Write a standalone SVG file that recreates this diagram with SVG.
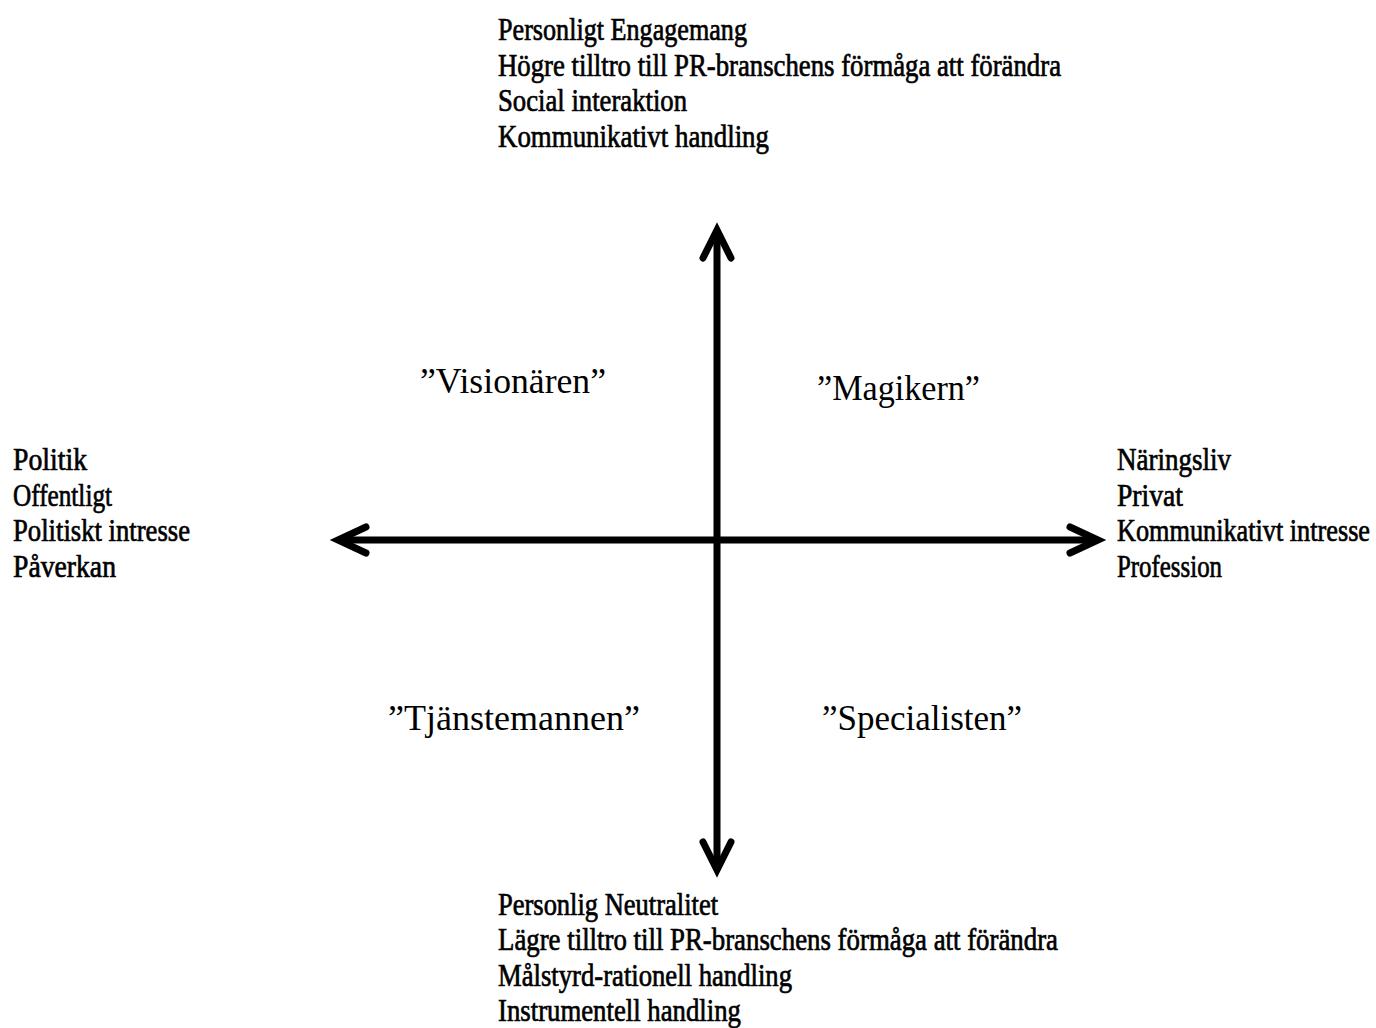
<svg xmlns="http://www.w3.org/2000/svg" width="1376" height="1028" viewBox="0 0 1376 1028">
<style>
.ax{font-family:"Liberation Serif","Times New Roman",serif;font-size:32px;fill:#000;stroke:#000;stroke-width:0.7}
.q{font-family:"Liberation Serif","Times New Roman",serif;font-size:35px;fill:#000}
.ln{fill:none;stroke:#000;stroke-width:7;stroke-linecap:round;stroke-linejoin:miter}
</style>
<rect width="1376" height="1028" fill="#fff"/>
<g id="connectors">
<line class="ln" x1="717" y1="232" x2="717" y2="868"/>
<line class="ln" x1="340" y1="540" x2="1096" y2="540"/>
<polyline class="ln" points="703,258 717,230 731,258"/>
<polyline class="ln" points="703,842 717,870 731,842"/>
<polyline class="ln" points="366,527 338,540 366,553"/>
<polyline class="ln" points="1070,527 1098,540 1070,553"/>
</g>
<g id="top">
<text class="ax" x="498" y="40" textLength="249" lengthAdjust="spacingAndGlyphs">Personligt Engagemang</text>
<text class="ax" x="498" y="76" textLength="563" lengthAdjust="spacingAndGlyphs">Högre tilltro till PR-branschens förmåga att förändra</text>
<text class="ax" x="498" y="111" textLength="189" lengthAdjust="spacingAndGlyphs">Social interaktion</text>
<text class="ax" x="498" y="147" textLength="271" lengthAdjust="spacingAndGlyphs">Kommunikativt handling</text>
</g>
<g id="bottom">
<text class="ax" x="498" y="915" textLength="220" lengthAdjust="spacingAndGlyphs">Personlig Neutralitet</text>
<text class="ax" x="498" y="950" textLength="560" lengthAdjust="spacingAndGlyphs">Lägre tilltro till PR-branschens förmåga att förändra</text>
<text class="ax" x="498" y="986" textLength="294" lengthAdjust="spacingAndGlyphs">Målstyrd-rationell handling</text>
<text class="ax" x="498" y="1021" textLength="243" lengthAdjust="spacingAndGlyphs">Instrumentell handling</text>
</g>
<g id="left">
<text class="ax" x="13" y="470" textLength="74" lengthAdjust="spacingAndGlyphs">Politik</text>
<text class="ax" x="13" y="506" textLength="99" lengthAdjust="spacingAndGlyphs">Offentligt</text>
<text class="ax" x="13" y="541" textLength="177" lengthAdjust="spacingAndGlyphs">Politiskt intresse</text>
<text class="ax" x="13" y="577" textLength="103" lengthAdjust="spacingAndGlyphs">Påverkan</text>
</g>
<g id="right">
<text class="ax" x="1117" y="470" textLength="114" lengthAdjust="spacingAndGlyphs">Näringsliv</text>
<text class="ax" x="1117" y="506" textLength="66" lengthAdjust="spacingAndGlyphs">Privat</text>
<text class="ax" x="1117" y="541" textLength="253" lengthAdjust="spacingAndGlyphs">Kommunikativt intresse</text>
<text class="ax" x="1117" y="577" textLength="105" lengthAdjust="spacingAndGlyphs">Profession</text>
</g>
<g id="visionaren"><text class="q" x="420" y="393" textLength="186" lengthAdjust="spacingAndGlyphs">”Visionären”</text></g>
<g id="magikern"><text class="q" x="817" y="400" textLength="163" lengthAdjust="spacingAndGlyphs">”Magikern”</text></g>
<g id="tjanstemannen"><text class="q" x="388" y="730" textLength="252" lengthAdjust="spacingAndGlyphs">”Tjänstemannen”</text></g>
<g id="specialisten"><text class="q" x="822" y="730" textLength="200" lengthAdjust="spacingAndGlyphs">”Specialisten”</text></g>
</svg>
